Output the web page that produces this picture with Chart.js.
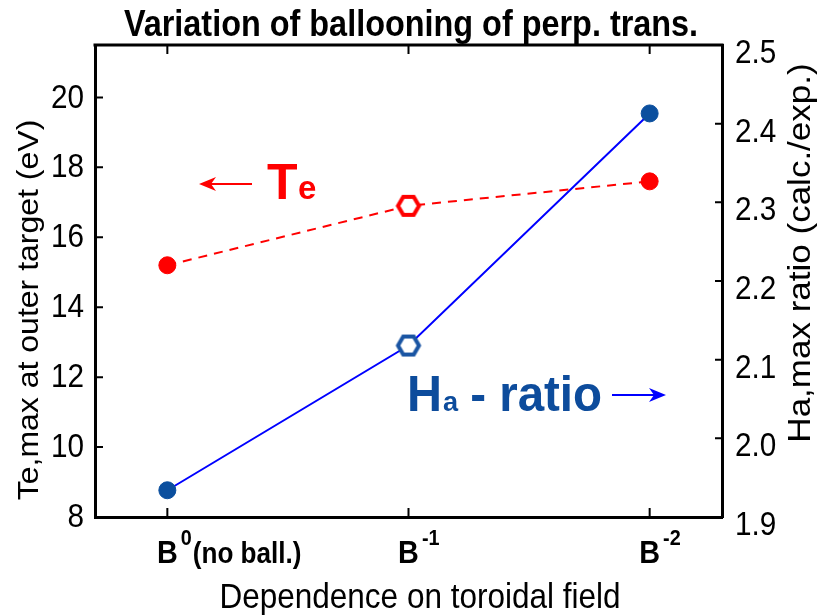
<!DOCTYPE html>
<html>
<head>
<meta charset="utf-8">
<script src="https://cdn.jsdelivr.net/npm/chart.js@4.4.0/dist/chart.umd.min.js"></script>
<style>
  body { margin: 0; background: #fff; }
</style>
</head>
<body>
<canvas id="chart" width="822" height="616"></canvas>
<script>
const xPos = [0, 1, 2];
const catBase = ["B", "B", "B"];
const catSup = ["0", "-1", "-2"];
const catTail = ["(no ball.)", "", ""];
const teValues = [15.2, 16.9, 17.6];
const haValues = [1.934, 2.118, 2.413];

const FONT = '"Liberation Sans", Arial, sans-serif';
const RED = "#ff0000";
const BLUE_MARK = "#0b4f9e";
const BLUE_LINE = "#0000ff";
const SQ = 0.9; // glyphs in the figure are a bit narrow

// open hexagon marker
const makeHex = (color) => {
  const c = document.createElement("canvas");
  c.width = 30;
  c.height = 30;
  const g = c.getContext("2d");
  g.beginPath();
  for (let i = 0; i < 6; i++) {
    const a = (Math.PI / 3) * i;
    const px = 15 + 10.5 * Math.cos(a);
    const py = 15 + 10.5 * Math.sin(a);
    i === 0 ? g.moveTo(px, py) : g.lineTo(px, py);
  }
  g.closePath();
  g.fillStyle = "#fff";
  g.fill();
  g.lineWidth = 4;
  g.strokeStyle = color;
  g.stroke();
  return c;
};

const arrow = (ctx, x1, x2, y, color) => {
  const dir = Math.sign(x2 - x1);
  ctx.save();
  ctx.strokeStyle = color;
  ctx.fillStyle = color;
  ctx.lineWidth = 2;
  ctx.beginPath();
  ctx.moveTo(x1, y);
  ctx.lineTo(x2 - dir * 8, y);
  ctx.stroke();
  ctx.beginPath();
  ctx.moveTo(x2, y);
  ctx.lineTo(x2 - dir * 17, y - 7);
  ctx.lineTo(x2 - dir * 12, y);
  ctx.lineTo(x2 - dir * 17, y + 7);
  ctx.closePath();
  ctx.fill();
  ctx.restore();
};

// text squeezed horizontally, returns drawn width
const txt = (ctx, s, x, y, font, align, sx = SQ) => {
  ctx.save();
  ctx.font = font;
  ctx.textAlign = align;
  ctx.translate(x, y);
  ctx.scale(sx, 1);
  ctx.fillText(s, 0, 0);
  const w = ctx.measureText(s).width * sx;
  ctx.restore();
  return w;
};

const decorations = {
  id: "decorations",
  afterDraw(chart) {
    const ctx = chart.ctx;
    const { left, right, top, bottom } = chart.chartArea;
    const xs = chart.scales.x;
    const ys = chart.scales.y;
    const ys2 = chart.scales.y2;
    ctx.save();

    // top frame
    ctx.strokeStyle = "#000";
    ctx.lineWidth = 3;
    ctx.beginPath();
    ctx.moveTo(left - 1.5, top);
    ctx.lineTo(right + 1.5, top);
    ctx.stroke();

    // inward ticks
    ctx.lineWidth = 2;
    ctx.beginPath();
    xs.ticks.forEach((t) => {
      const px = xs.getPixelForValue(t.value);
      ctx.moveTo(px, bottom);
      ctx.lineTo(px, bottom - 9);
      ctx.moveTo(px, top);
      ctx.lineTo(px, top + 9);
    });
    ys.ticks.forEach((t) => {
      const py = ys.getPixelForValue(t.value);
      ctx.moveTo(left, py);
      ctx.lineTo(left + 8, py);
    });
    ys2.ticks.forEach((t) => {
      const py = ys2.getPixelForValue(t.value);
      ctx.moveTo(right, py);
      ctx.lineTo(right - 7, py);
    });
    ctx.stroke();

    ctx.fillStyle = "#000";
    ctx.textBaseline = "middle";
    // y tick labels
    ys.ticks.forEach((t) => {
      txt(ctx, String(t.value), 84, ys.getPixelForValue(t.value) + 1, "33px " + FONT, "right");
    });
    ys2.ticks.forEach((t) => {
      txt(ctx, t.value.toFixed(1), 735, ys2.getPixelForValue(t.value) + 9, "33px " + FONT, "left");
    });

    ctx.textBaseline = "alphabetic";
    // title
    txt(ctx, "Variation of ballooning of perp. trans.", 411, 36, "bold 36px " + FONT, "center");
    // x axis title
    txt(ctx, "Dependence on toroidal field", 420, 608, "35px " + FONT, "center");

    // y axis titles
    ctx.save();
    ctx.translate(30, 310);
    ctx.rotate(-Math.PI / 2);
    ctx.scale(1, SQ);
    ctx.textBaseline = "middle";
    ctx.textAlign = "center";
    ctx.font = "32px " + FONT;
    ctx.fillText("Te,max at outer target (eV)", 0, 0);
    ctx.restore();

    ctx.save();
    ctx.translate(801, 253);
    ctx.rotate(-Math.PI / 2);
    ctx.scale(1, SQ);
    ctx.textBaseline = "middle";
    ctx.textAlign = "center";
    ctx.font = "35px " + FONT;
    ctx.fillText("Ha,max ratio (calc./exp.)", 0, 0);
    ctx.restore();

    // x tick labels with superscripts
    xPos.forEach((v, i) => {
      const px = xs.getPixelForValue(v);
      ctx.font = "bold 32px " + FONT;
      const wb = ctx.measureText(catBase[i]).width * SQ;
      let x = px - wb / 2;
      x += txt(ctx, catBase[i], x, 563, "bold 32px " + FONT, "left") + 3;
      x += txt(ctx, catSup[i], x, 545, "bold 22px " + FONT, "left") + 1;
      txt(ctx, catTail[i], x, 563, "bold 29px " + FONT, "left");
    });

    // Te annotation
    arrow(ctx, 252, 199, 184, RED);
    ctx.fillStyle = RED;
    txt(ctx, "T", 267, 199, "bold 50px " + FONT, "left", 1);
    txt(ctx, "e", 298, 199, "bold 33px " + FONT, "left", 1);

    // Ha annotation
    ctx.fillStyle = "#0d4c9c";
    let hx = 407;
    hx += txt(ctx, "H", hx, 411, "bold 50px " + FONT, "left", 0.97) + 1;
    hx += txt(ctx, "a", hx, 411, "bold 28px " + FONT, "left", 0.97) + 12;
    txt(ctx, "- ratio", hx, 411, "bold 50px " + FONT, "left", 0.95);
    arrow(ctx, 612, 666, 395, BLUE_LINE);

    ctx.restore();
  },
};

const toPoints = (vals) => xPos.map((x, i) => ({ x, y: vals[i] }));

new Chart(document.getElementById("chart"), {
  type: "line",
  data: {
    datasets: [
      {
        label: "Te",
        data: toPoints(teValues),
        yAxisID: "y",
        borderColor: RED,
        borderWidth: 2,
        borderDash: [9, 7],
        pointStyle: ["circle", makeHex(RED), "circle"],
        pointRadius: 8.5,
        pointBackgroundColor: RED,
        pointBorderColor: RED,
        pointBorderWidth: 1,
      },
      {
        label: "Ha ratio",
        data: toPoints(haValues),
        yAxisID: "y2",
        borderColor: BLUE_LINE,
        borderWidth: 2,
        pointStyle: ["circle", makeHex("#1a55a3"), "circle"],
        pointRadius: 8.5,
        pointBackgroundColor: BLUE_MARK,
        pointBorderColor: BLUE_MARK,
        pointBorderWidth: 1,
      },
    ],
  },
  options: {
    responsive: false,
    animation: false,
    layout: { padding: { top: 45 } },
    plugins: {
      legend: { display: false },
      tooltip: { enabled: false },
    },
    scales: {
      x: {
        type: "linear",
        min: -0.3,
        max: 2.3,
        afterBuildTicks: (scale) => {
          scale.ticks = xPos.map((v) => ({ value: v }));
        },
        afterFit: (scale) => {
          scale.height = 99;
        },
        ticks: { display: false },
        grid: { display: false },
        border: { display: true, color: "#000", width: 3 },
      },
      y: {
        position: "left",
        min: 8,
        max: 21.5,
        afterFit: (scale) => {
          scale.width = 95;
        },
        ticks: { display: false, stepSize: 2, includeBounds: false },
        grid: { display: false, drawTicks: false },
        border: { display: true, color: "#000", width: 3 },
      },
      y2: {
        position: "right",
        min: 1.9,
        max: 2.5,
        afterFit: (scale) => {
          scale.width = 100;
        },
        ticks: { display: false, stepSize: 0.1 },
        grid: { display: false, drawTicks: false },
        border: { display: true, color: "#000", width: 3 },
      },
    },
  },
  plugins: [decorations],
});
</script>
</body>
</html>
